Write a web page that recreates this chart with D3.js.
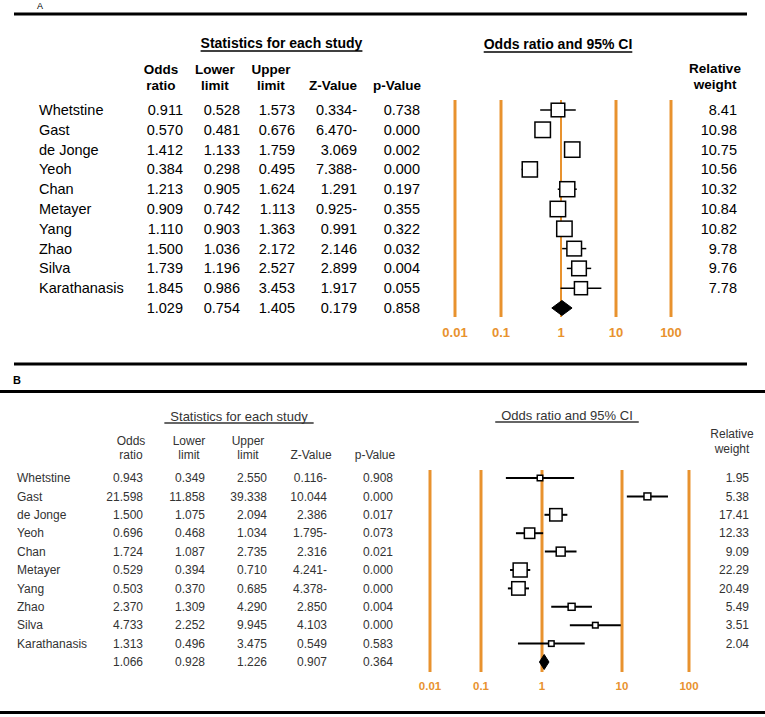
<!DOCTYPE html>
<html>
<head>
<meta charset="utf-8">
<script src="https://cdn.jsdelivr.net/npm/d3@7"></script>
<style>
  body { margin: 0; background: #fff; }
  svg { display: block; font-family: "Liberation Sans", Arial, sans-serif; }
</style>
</head>
<body>
<div id="chart"></div>
<script>
// ---------------------------------------------------------------
// DATA
// ---------------------------------------------------------------
const studies = ["Whetstine", "Gast", "de Jonge", "Yeoh", "Chan",
                 "Metayer", "Yang", "Zhao", "Silva", "Karathanasis"];

// panel A
const orA     = [0.911, 0.570, 1.412, 0.384, 1.213, 0.909, 1.110, 1.500, 1.739, 1.845];
const lowerA  = [0.528, 0.481, 1.133, 0.298, 0.905, 0.742, 0.903, 1.036, 1.196, 0.986];
const upperA  = [1.573, 0.676, 1.759, 0.495, 1.624, 1.113, 1.363, 2.172, 2.527, 3.453];
const zA      = ["0.334-", "6.470-", "3.069", "7.388-", "1.291", "0.925-", "0.991", "2.146", "2.899", "1.917"];
const pA      = [0.738, 0.000, 0.002, 0.000, 0.197, 0.355, 0.322, 0.032, 0.004, 0.055];
const weightA = [8.41, 10.98, 10.75, 10.56, 10.32, 10.84, 10.82, 9.78, 9.76, 7.78];
const summaryA = [1.029, 0.754, 1.405, "0.179", 0.858];

// panel B
const orB     = [0.943, 21.598, 1.500, 0.696, 1.724, 0.529, 0.503, 2.370, 4.733, 1.313];
const lowerB  = [0.349, 11.858, 1.075, 0.468, 1.087, 0.394, 0.370, 1.309, 2.252, 0.496];
const upperB  = [2.550, 39.338, 2.094, 1.034, 2.735, 0.710, 0.685, 4.290, 9.945, 3.475];
const zB      = ["0.116-", "10.044", "2.386", "1.795-", "2.316", "4.241-", "4.378-", "2.850", "4.103", "0.549"];
const pB      = [0.908, 0.000, 0.017, 0.073, 0.021, 0.000, 0.000, 0.004, 0.000, 0.583];
const weightB = [1.95, 5.38, 17.41, 12.33, 9.09, 22.29, 20.49, 5.49, 3.51, 2.04];
const summaryB = [1.066, 0.928, 1.226, "0.907", 0.364];

const tickValues = [0.01, 0.1, 1, 10, 100];
const tickLabels = ["0.01", "0.1", "1", "10", "100"];
const headerLines = [["Odds", "ratio"], ["Lower", "limit"], ["Upper", "limit"], ["", "Z-Value"], ["", "p-Value"]];

// ---------------------------------------------------------------
// SETUP
// ---------------------------------------------------------------
const width = 765, height = 717;
const orange = "#E8922E";
const fmt3 = d3.format(".3f");
const fmt2 = d3.format(".2f");

const svg = d3.select("#chart").append("svg")
    .attr("width", width)
    .attr("height", height);

function rule(x1, x2, y) {
    svg.append("line")
        .attr("x1", x1).attr("x2", x2)
        .attr("y1", y).attr("y2", y)
        .attr("stroke", "#000")
        .attr("stroke-width", 3);
}

rule(14, 747, 14);
rule(14, 747, 364);
rule(0, 765, 391.5);
rule(0, 765, 712.5);

svg.append("text").attr("x", 37).attr("y", 9).style("font-size", "9px").text("A");
svg.append("text").attr("x", 13).attr("y", 384).style("font-size", "11px")
    .style("font-weight", "bold").text("B");

// ---------------------------------------------------------------
// PANEL
// ---------------------------------------------------------------
function drawPanel(p, d) {
    const g = svg.append("g")
        .style("fill", p.color);

    const rowY = d3.scalePoint()
        .domain(d3.range(studies.length + 1))
        .range([p.rowTop, p.rowBottom]);

    // titles with underline
    function title(text, x, y) {
        const t = g.append("text")
            .attr("x", x).attr("y", y)
            .attr("text-anchor", "middle")
            .attr("dy", "0.35em")
            .style("font-size", p.titleSize)
            .style("font-weight", p.titleWeight)
            .text(text);
        const w = t.node().getComputedTextLength();
        g.append("line")
            .attr("x1", x - w / 2 - p.ulPad).attr("x2", x + w / 2 + p.ulPad)
            .attr("y1", y + p.ulOffset).attr("y2", y + p.ulOffset)
            .attr("stroke", p.color).attr("stroke-width", 1.5);
    }
    title("Statistics for each study", p.statsX, p.titleY);
    title("Odds ratio and 95% CI", p.plotTitleX, p.plotTitleY);

    // column headers
    headerLines.forEach((lines, j) => {
        lines.forEach((s, k) => {
            g.append("text")
                .attr("x", p.headX[j])
                .attr("y", p.headY[k])
                .attr("dy", "0.35em")
                .attr("text-anchor", "middle")
                .style("font-size", p.headSize)
                .style("font-weight", p.headWeight)
                .text(s);
        });
    });
    ["Relative", "weight"].forEach((s, k) => {
        g.append("text")
            .attr("x", p.weightHeadX)
            .attr("y", p.weightHeadY[k])
            .attr("dy", "0.35em")
            .attr("text-anchor", "middle")
            .style("font-size", p.headSize)
            .style("font-weight", p.headWeight)
            .text(s);
    });

    // study names
    g.selectAll("text.name")
        .data(studies)
        .enter().append("text")
        .attr("class", "name")
        .attr("x", p.nameX)
        .attr("y", (s, i) => rowY(i))
        .attr("dy", "0.35em")
        .style("font-size", p.valSize)
        .text(s => s);

    // value columns (studies + summary row)
    const cols = [
        d.or.concat(d.summary[0]).map(fmt3),
        d.lower.concat(d.summary[1]).map(fmt3),
        d.upper.concat(d.summary[2]).map(fmt3),
        d.z.concat(d.summary[3]),
        d.p.concat(d.summary[4]).map(fmt3)
    ];
    cols.forEach((vals, j) => {
        g.selectAll("text.col" + j)
            .data(vals)
            .enter().append("text")
            .attr("class", "col" + j)
            .attr("x", p.colX[j])
            .attr("y", (v, i) => rowY(i))
            .attr("dy", "0.35em")
            .attr("text-anchor", "end")
            .style("font-size", p.valSize)
            .text(v => v);
    });

    g.selectAll("text.weight")
        .data(d.weight)
        .enter().append("text")
        .attr("class", "weight")
        .attr("x", p.weightX)
        .attr("y", (v, i) => rowY(i))
        .attr("dy", "0.35em")
        .attr("text-anchor", "end")
        .style("font-size", p.valSize)
        .text(fmt2);

    // forest plot: axis lines and marker scale
    const gx = d3.scaleLog().domain(tickValues).range(p.gridRange);
    const mx = d3.scaleLog().domain([1, 10]).range([gx(1), gx(1) + p.decade]);

    g.selectAll("line.grid")
        .data(tickValues)
        .enter().append("line")
        .attr("class", "grid")
        .attr("x1", gx).attr("x2", gx)
        .attr("y1", p.gridTop).attr("y2", p.gridBottom)
        .attr("stroke", orange)
        .attr("stroke-width", t => t === 1 ? p.gridW1 : p.gridW);

    g.selectAll("text.tick")
        .data(tickValues)
        .enter().append("text")
        .attr("class", "tick")
        .attr("x", gx)
        .attr("y", p.tickY)
        .attr("dy", "0.35em")
        .attr("text-anchor", "middle")
        .style("fill", orange)
        .style("font-size", p.tickSize)
        .style("font-weight", "bold")
        .text((t, i) => tickLabels[i]);

    // confidence intervals
    g.selectAll("line.ci")
        .data(studies)
        .enter().append("line")
        .attr("class", "ci")
        .attr("x1", (s, i) => mx(d.lower[i]))
        .attr("x2", (s, i) => mx(d.upper[i]))
        .attr("y1", (s, i) => rowY(i))
        .attr("y2", (s, i) => rowY(i))
        .attr("stroke", "#000")
        .attr("stroke-width", p.ciW);

    // squares sized by relative weight
    const box = d3.scaleSqrt().domain([0, d3.max(d.weight)]).range([0, p.maxBox]);
    g.selectAll("rect.box")
        .data(studies)
        .enter().append("rect")
        .attr("class", "box")
        .each(function (s, i) {
            const size = Math.max(p.minBox, box(d.weight[i]));
            d3.select(this)
                .attr("x", mx(d.or[i]) - size / 2)
                .attr("y", rowY(i) - size / 2)
                .attr("width", size)
                .attr("height", size);
        })
        .style("fill", "#fff")
        .attr("stroke", "#000")
        .attr("stroke-width", 1.5);

    // summary diamond
    const sy = rowY(studies.length);
    const h = p.diamondH / 2;
    const pts = [
        [mx(d.summary[1]), sy],
        [mx(d.summary[0]), sy - h],
        [mx(d.summary[2]), sy],
        [mx(d.summary[0]), sy + h]
    ];
    g.append("path")
        .attr("d", d3.line()(pts) + "Z")
        .style("fill", "#000")
        .attr("stroke", "#000");
}

// ---------------------------------------------------------------
// DRAW BOTH PANELS
// ---------------------------------------------------------------
drawPanel({
    color: "#000",
    rowTop: 110, rowBottom: 308,
    titleY: 43, plotTitleY: 44, statsX: 281.5, plotTitleX: 558,
    titleSize: "14px", titleWeight: "bold", ulPad: 0, ulOffset: 8,
    headX: [161, 215, 271, 333, 397], headY: [69, 85],
    weightHeadX: 715, weightHeadY: [68, 84],
    headSize: "13.5px", headWeight: "bold",
    nameX: 39, colX: [183, 240, 295, 357, 420], weightX: 737,
    valSize: "14.5px",
    gridRange: [455, 501, 561, 616, 671], decade: 75,
    gridTop: 100, gridBottom: 317, gridW: 3, gridW1: 2,
    tickY: 332, tickSize: "13px",
    ciW: 1.5, maxBox: 15.5, minBox: 5, diamondH: 15
}, {
    or: orA, lower: lowerA, upper: upperA, z: zA, p: pA,
    weight: weightA, summary: summaryA
});

drawPanel({
    color: "#333",
    rowTop: 478, rowBottom: 662,
    titleY: 416, plotTitleY: 415, statsX: 239, plotTitleX: 567,
    titleSize: "13px", titleWeight: "normal", ulPad: 6, ulOffset: 7,
    headX: [131, 189, 248, 311, 375], headY: [441, 455],
    weightHeadX: 732, weightHeadY: [434, 449],
    headSize: "12px", headWeight: "normal",
    nameX: 17, colX: [143, 205, 267, 327, 393], weightX: 749,
    valSize: "12px",
    gridRange: [430, 481, 542, 622, 689], decade: 79,
    gridTop: 470, gridBottom: 672, gridW: 3, gridW1: 3,
    tickY: 686, tickSize: "11.5px",
    ciW: 2, maxBox: 14, minBox: 5.5, diamondH: 15
}, {
    or: orB, lower: lowerB, upper: upperB, z: zB, p: pB,
    weight: weightB, summary: summaryB
});
</script>
</body>
</html>
